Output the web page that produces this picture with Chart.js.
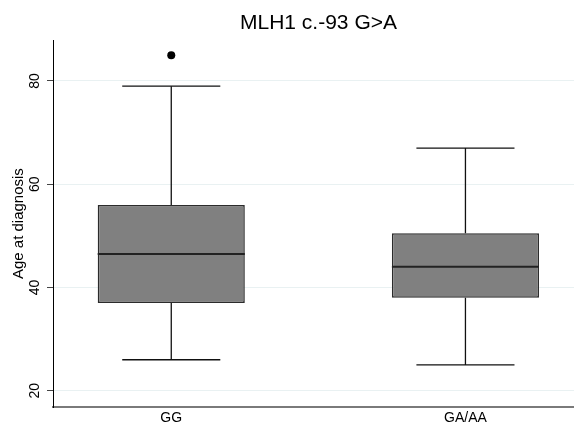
<!DOCTYPE html>
<html><head><meta charset="utf-8">
<script src="https://cdn.jsdelivr.net/npm/chart.js@4/dist/chart.umd.min.js"></script>
<style>html,body{margin:0;padding:0;background:#fff}#wrap{width:574px;height:427px}</style>
</head><body><div id="wrap"><canvas id="c" width="574" height="427"></canvas></div>
<script>
const categories = ['GG', 'GA/AA'];
const lowerWhisker = [26, 25];
const q1 = [37, 38];
const median = [46.5, 44];
const q3 = [56, 50.5];
const upperWhisker = [79, 67];
const outliers = [[85], []];
const yTicks = [20, 40, 60, 80];
const titleText = 'MLH1 c.-93 G>A';
const yTitle = 'Age at diagnosis';

const FONT = 'Liberation Sans, Arial, Helvetica, sans-serif';
const BOX_HALF = 0.25, CAP_HALF = 0.1667;
const xPos = categories.map((c, i) => i + 1);

function seg(x0, y0, x1, y1, w, col) {
  return { type: 'line', data: [{x: x0, y: y0}, {x: x1, y: y1}], borderColor: col, borderWidth: w,
    pointRadius: 0, fill: false, tension: 0, order: 1 };
}

const datasets = [];
datasets.push({
  type: 'bar',
  data: categories.map((c, i) => ({x: xPos[i], y: [q1[i], q3[i]]})),
  backgroundColor: '#808080', borderColor: '#2b2b2b', borderWidth: 1.5, borderSkipped: false,
  barPercentage: 0.5, categoryPercentage: 1.0, order: 3
});
categories.forEach((c, i) => {
  const x = xPos[i];
  datasets.push(seg(x, q3[i], x, upperWhisker[i], 1.3, '#111'));
  datasets.push(seg(x, q1[i], x, lowerWhisker[i], 1.3, '#111'));
  datasets.push(seg(x - CAP_HALF, upperWhisker[i], x + CAP_HALF, upperWhisker[i], 1.3, '#111'));
  datasets.push(seg(x - CAP_HALF, lowerWhisker[i], x + CAP_HALF, lowerWhisker[i], 1.3, '#111'));
  datasets.push(seg(x - BOX_HALF, median[i], x + BOX_HALF, median[i], 2, '#222'));
});
datasets.push({
  type: 'scatter',
  data: outliers.flatMap((arr, i) => arr.map(v => ({x: xPos[i], y: v}))),
  pointRadius: 4, backgroundColor: '#000', borderWidth: 0, showLine: false, order: 0
});

const titleShift = {
  id: 'titleShift',
  afterLayout(chart) { if (chart.titleBlock) chart.titleBlock.left += 10; }
};

new Chart(document.getElementById('c'), {
  type: 'bar',
  data: { datasets },
  plugins: [titleShift],
  options: {
    responsive: false, animation: false, devicePixelRatio: 1,
    layout: { padding: 0, autoPadding: false },
    plugins: {
      legend: { display: false }, tooltip: { enabled: false },
      title: { display: true, text: titleText, fullSize: false, color: '#000',
        font: { family: FONT, size: 21, weight: 'normal' }, padding: { top: 11, bottom: 4 } }
    },
    scales: {
      x: {
        type: 'linear', min: 0.598, max: 2.369, offset: false,
        afterBuildTicks: s => { s.ticks = xPos.map(v => ({ value: v })); },
        afterFit: s => { s.height = 20; s.paddingLeft = 0; s.paddingRight = 0; },
        ticks: { callback: (v, i) => categories[i], autoSkip: false, maxRotation: 0, minRotation: 0,
          color: '#000', font: { family: FONT, size: 14 }, padding: 3 },
        grid: { display: false, drawTicks: false },
        border: { display: true, color: '#7a7a7a', width: 2 }
      },
      y: {
        type: 'linear', min: 16.85, max: 87.9,
        afterBuildTicks: s => { s.ticks = yTicks.map(v => ({ value: v })); },
        afterFit: s => { s.width = 53; },
        ticks: { minRotation: 90, maxRotation: 90, crossAlign: 'center', padding: 4, color: '#000',
          font: { family: FONT, size: 14 }, callback: v => String(v) },
        grid: { color: '#e9f1f2', lineWidth: 1, tickLength: 6, tickColor: '#444', drawTicks: true },
        border: { display: true, color: '#000', width: 1 },
        title: { display: true, text: yTitle, color: '#000', font: { family: FONT, size: 15 },
          padding: { top: 10, bottom: 0 } }
      }
    }
  }
});
</script></body></html>
